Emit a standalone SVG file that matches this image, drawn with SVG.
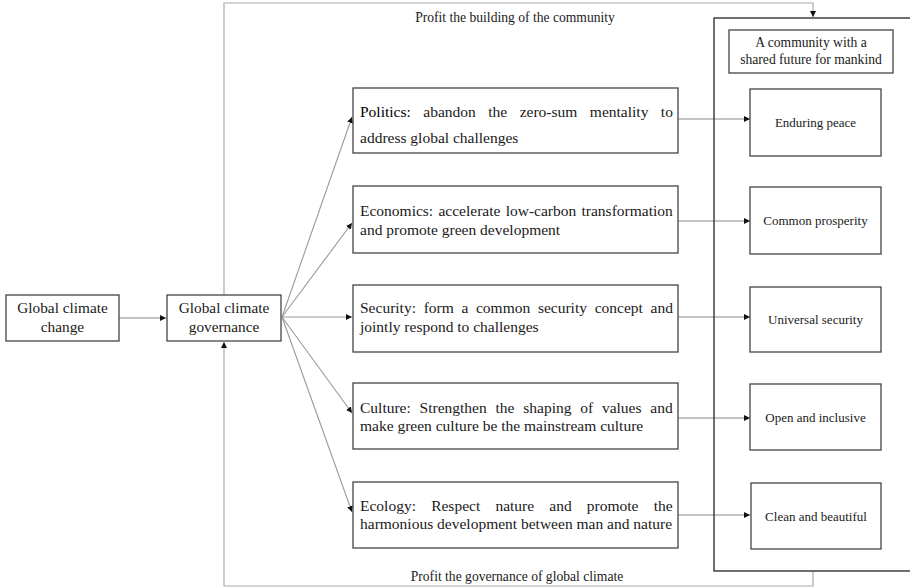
<svg xmlns="http://www.w3.org/2000/svg" width="910" height="587" viewBox="0 0 910 587">
<style>
text{font-family:"Liberation Serif","Times New Roman",serif;fill:#1a1a1a}
.box{fill:#fff;stroke:#444;stroke-width:1.3}
.big{fill:none;stroke:#333;stroke-width:1.4}
.c14{font-size:15.3px;text-anchor:middle}
.c13{font-size:13px;text-anchor:middle}
.lab{font-size:13.6px;text-anchor:middle}
.m{font-size:15.5px}
.loop{fill:none;stroke:#aaa;stroke-width:1.2}
.fan{fill:none;stroke:#999;stroke-width:1.1}
.h{fill:none;stroke:#888;stroke-width:1}
</style>
<defs>
<marker id="ah" viewBox="0 0 10 10" refX="10" refY="5" markerWidth="6" markerHeight="6" markerUnits="userSpaceOnUse" orient="auto">
<path d="M0,0 L10,5 L0,10 z" fill="#111"/>
</marker>
</defs>

<g id="connectors">
<line class="h" x1="119" y1="318" x2="166" y2="318" marker-end="url(#ah)"/>
<polyline class="loop" points="224,295 224,3 813,3 813,17" marker-end="url(#ah)"/>
<polyline class="loop" points="813,571 813,586 224,586 224,342" marker-end="url(#ah)"/>
<line class="fan" x1="282" y1="317" x2="352" y2="117" marker-end="url(#ah)"/>
<line class="fan" x1="282" y1="317" x2="352" y2="223" marker-end="url(#ah)"/>
<line class="fan" x1="282" y1="317" x2="352" y2="317" marker-end="url(#ah)"/>
<line class="fan" x1="282" y1="317" x2="352" y2="413" marker-end="url(#ah)"/>
<line class="fan" x1="282" y1="317" x2="352" y2="512" marker-end="url(#ah)"/>
<line class="h" x1="678" y1="119" x2="750" y2="119" marker-end="url(#ah)"/>
<line class="h" x1="678" y1="221" x2="750" y2="221" marker-end="url(#ah)"/>
<line class="h" x1="678" y1="317" x2="750" y2="317" marker-end="url(#ah)"/>
<line class="h" x1="678" y1="418" x2="750" y2="418" marker-end="url(#ah)"/>
<line class="h" x1="678" y1="515" x2="750" y2="515" marker-end="url(#ah)"/>
<text class="lab" x="515" y="22">Profit the building of the community</text>
<text class="lab" x="517" y="581">Profit the governance of global climate</text>
</g>

<g id="change">
<rect class="box" x="6" y="295" width="113" height="46"/>
<text class="c14" x="62.5" y="313">Global climate</text>
<text class="c14" x="62.5" y="332">change</text>
</g>
<g id="governance">
<rect class="box" x="167" y="295" width="114" height="46"/>
<text class="c14" x="224" y="313">Global climate</text>
<text class="c14" x="224" y="332">governance</text>
</g>

<g id="politics">
<rect class="box" x="353" y="88" width="325" height="65"/>
<text class="m" x="360" y="117" style="word-spacing:8.6px"><tspan fill="#000">Politics:</tspan> abandon the zero-sum mentality to</text>
<text class="m" x="360" y="143">address global challenges</text>
</g>
<g id="economics">
<rect class="box" x="353" y="186" width="325" height="67"/>
<text class="m" x="360" y="216" style="word-spacing:1.4px">Economics: accelerate low-carbon transformation</text>
<text class="m" x="360" y="235">and promote green development</text>
</g>
<g id="security">
<rect class="box" x="353" y="285" width="325" height="67"/>
<text class="m" x="360" y="313" style="word-spacing:3.8px">Security: form a common security concept and</text>
<text class="m" x="360" y="332">jointly respond to challenges</text>
</g>
<g id="culture">
<rect class="box" x="353" y="383" width="325" height="66"/>
<text class="m" x="360" y="413" style="word-spacing:4.9px">Culture: Strengthen the shaping of values and</text>
<text class="m" x="360" y="431">make green culture be the mainstream culture</text>
</g>
<g id="ecology">
<rect class="box" x="353" y="482" width="325" height="66"/>
<text class="m" x="360" y="511" style="word-spacing:11.3px">Ecology: Respect nature and promote the</text>
<text class="m" x="360" y="529">harmonious development between man and nature</text>
</g>

<g id="community">
<rect class="big" x="714" y="18" width="205" height="553"/>
<rect class="box" x="729" y="30" width="164" height="43"/>
<text class="lab" x="811" y="47">A community with a</text>
<text class="lab" x="811" y="64">shared future for mankind</text>
</g>
<g id="peace">
<rect class="box" x="750" y="89" width="131" height="67"/>
<text class="c13" x="815.5" y="127">Enduring peace</text>
</g>
<g id="prosperity">
<rect class="box" x="750" y="187" width="131" height="67"/>
<text class="c13" x="815.5" y="225">Common prosperity</text>
</g>
<g id="security-goal">
<rect class="box" x="750" y="287" width="131" height="65"/>
<text class="c13" x="815.5" y="324">Universal security</text>
</g>
<g id="inclusive">
<rect class="box" x="750" y="384" width="131" height="66"/>
<text class="c13" x="815.5" y="422">Open and inclusive</text>
</g>
<g id="clean">
<rect class="box" x="751" y="483" width="130" height="66"/>
<text class="c13" x="816" y="521">Clean and beautiful</text>
</g>
</svg>
